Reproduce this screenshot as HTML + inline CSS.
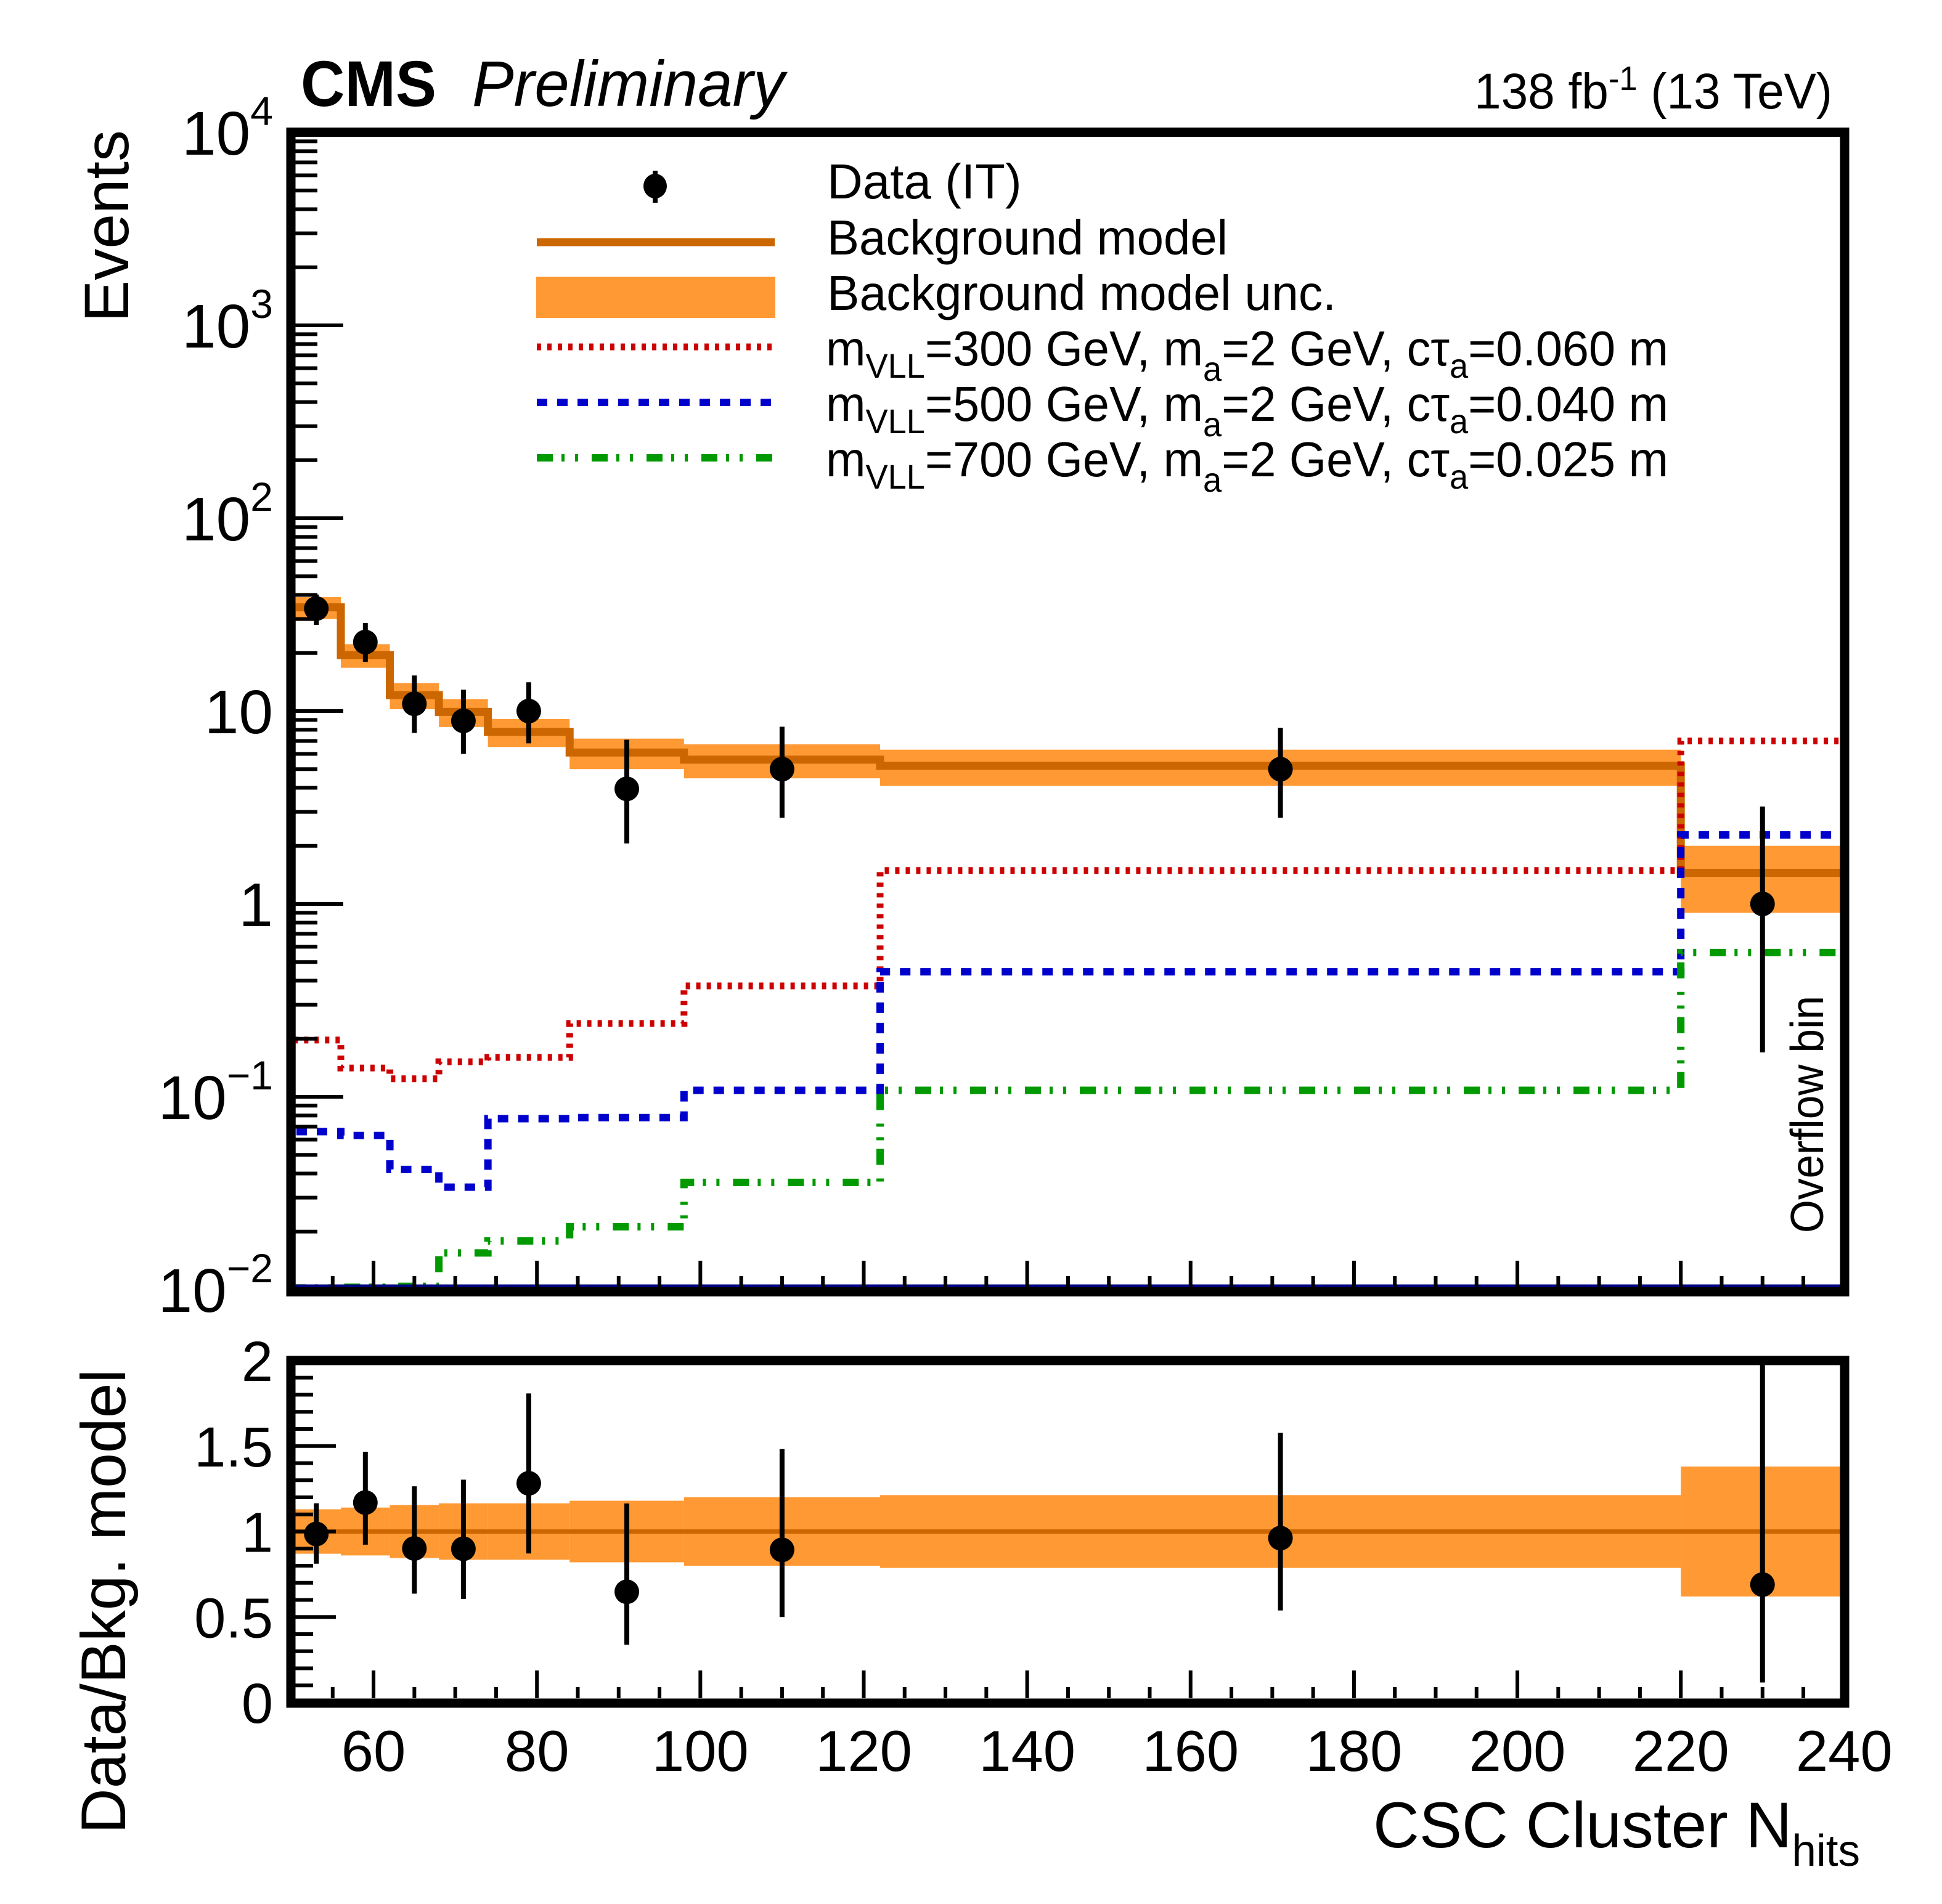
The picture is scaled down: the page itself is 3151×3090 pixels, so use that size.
<!DOCTYPE html>
<html><head><meta charset="utf-8">
<style>
html,body{margin:0;padding:0;background:#fff;}
svg{display:block;font-family:"Liberation Sans",Arial,sans-serif;}
</style></head>
<body>
<svg id="chart" width="3151" height="3090" viewBox="0 0 3151 3090" xmlns="http://www.w3.org/2000/svg">
<defs>
<clipPath id="clipMain"><rect x="479" y="221" width="2507" height="1869"/></clipPath>
<clipPath id="clipRatio"><rect x="479" y="2215" width="2507" height="542"/></clipPath>
</defs>
<g id="main-layer"></g>
<g id="ratio-layer"></g>
<g id="axes-layer"></g>

<text x="488" y="172" font-size="105" font-weight="bold" textLength="220" lengthAdjust="spacingAndGlyphs">CMS</text>
<text x="766" y="172" font-size="105" font-style="italic" textLength="507" lengthAdjust="spacingAndGlyphs">Preliminary</text>
<text x="2392" y="176" font-size="82" textLength="581" lengthAdjust="spacingAndGlyphs">138 fb<tspan dy="-30" font-size="55">-1</tspan><tspan dy="30"> (13 TeV)</tspan></text>

<text transform="translate(208,211) rotate(-90)" text-anchor="end" font-size="102">Events</text>
<text transform="translate(203,2222) rotate(-90)" text-anchor="end" font-size="102">Data/Bkg. model</text>
<text x="2228" y="2998" font-size="105" textLength="790" lengthAdjust="spacingAndGlyphs">CSC Cluster N<tspan dy="30" font-size="72">hits</tspan></text>
<text transform="translate(2958,2001) rotate(-90)" font-size="75" textLength="385" lengthAdjust="spacingAndGlyphs">Overflow bin</text>

<g>
  <line x1="1063" y1="277" x2="1063" y2="329" stroke="#000" stroke-width="8"/>
  <ellipse cx="1063" cy="302" rx="19" ry="20" fill="#000"/>
  <text x="1342" y="322" font-size="80">Data (IT)</text>
  <line x1="871" y1="393" x2="1257" y2="393" stroke="#CC6600" stroke-width="13"/>
  <text x="1342" y="413" font-size="80" textLength="650" lengthAdjust="spacingAndGlyphs">Background model</text>
  <rect x="870" y="449" width="388" height="67" fill="#FF9933"/>
  <text x="1342" y="503" font-size="80" textLength="826" lengthAdjust="spacingAndGlyphs">Background model unc.</text>
  <line x1="871" y1="563" x2="1257" y2="563" stroke="#CC0000" stroke-width="11" stroke-dasharray="7 10"/>
  <text x="1340" y="593" font-size="80" textLength="1367" lengthAdjust="spacingAndGlyphs">m<tspan dy="20" font-size="56">VLL</tspan><tspan dy="-20">=300 GeV, m</tspan><tspan dy="25" font-size="56">a</tspan><tspan dy="-25">=2 GeV, cτ</tspan><tspan dy="20" font-size="56">a</tspan><tspan dy="-20">=0.060 m</tspan></text>
  <line x1="871" y1="653" x2="1257" y2="653" stroke="#0000CC" stroke-width="12" stroke-dasharray="17 16"/>
  <text x="1340" y="683" font-size="80" textLength="1367" lengthAdjust="spacingAndGlyphs">m<tspan dy="20" font-size="56">VLL</tspan><tspan dy="-20">=500 GeV, m</tspan><tspan dy="25" font-size="56">a</tspan><tspan dy="-25">=2 GeV, cτ</tspan><tspan dy="20" font-size="56">a</tspan><tspan dy="-20">=0.040 m</tspan></text>
  <line x1="871" y1="743" x2="1257" y2="743" stroke="#009900" stroke-width="12" stroke-dasharray="26 14 5 17 5 22"/>
  <text x="1340" y="773" font-size="80" textLength="1367" lengthAdjust="spacingAndGlyphs">m<tspan dy="20" font-size="56">VLL</tspan><tspan dy="-20">=700 GeV, m</tspan><tspan dy="25" font-size="56">a</tspan><tspan dy="-25">=2 GeV, cτ</tspan><tspan dy="20" font-size="56">a</tspan><tspan dy="-20">=0.025 m</tspan></text>
</g>
</svg>
<script>
// ---- data ----
var binEdges = [50, 56, 62, 68, 74, 84, 98, 122, 220, 240];
var bkgValues = [34.5, 19.5, 12.1, 9.9, 7.8, 6.1, 5.6, 5.2, 1.45];
var bkgRelUnc = [0.13, 0.14, 0.155, 0.165, 0.165, 0.18, 0.2, 0.213, 0.38];
var dataX = [53, 59, 65, 71, 79, 91, 110, 171, 230];
var dataValues = [34, 22.8, 10.9, 8.9, 10, 3.95, 5.0, 5.0, 1.0];
var dataErrHi = [40.2, 28.6, 15.3, 12.9, 14.1, 7.1, 8.3, 8.2, 3.2];
var dataErrLo = [28, 18, 7.7, 6.0, 6.8, 2.06, 2.8, 2.8, 0.17];
var sig300 = [0.197, 0.141, 0.124, 0.152, 0.160, 0.24, 0.376, 1.49, 7.0];
var sig500 = [0.066, 0.063, 0.042, 0.034, 0.077, 0.078, 0.108, 0.445, 2.28];
var sig700 = [0.0102, 0.0103, 0.0104, 0.0155, 0.0179, 0.0212, 0.036, 0.108, 0.56];
var xTickLabels = [60, 80, 100, 120, 140, 160, 180, 200, 220, 240];
var ratioTickLabels = ["0", "0.5", "1", "1.5", "2"];
var ratioTickValues = [0, 0.5, 1, 1.5, 2];
var logTickExps = [-2, -1, 0, 1, 2, 3, 4];

// ---- axis functions ----
function xs(v){ return 473.5 + (v - 50) * 13.257; }
function ly(v){ return 215 + (4 - Math.log10(Math.max(v, 1e-3))) * 313; }
function ry(r){ return 2763 - r * 277.5; }

var NS = "http://www.w3.org/2000/svg";
function mk(tag, attrs, parent){
  var e = document.createElementNS(NS, tag);
  for (var k in attrs) e.setAttribute(k, attrs[k]);
  parent.appendChild(e); return e;
}
var mainL = document.getElementById('main-layer');
var ratioL = document.getElementById('ratio-layer');
var axL = document.getElementById('axes-layer');
var mainG = mk('g', {'clip-path':'url(#clipMain)'}, mainL);
var ratioG = mk('g', {'clip-path':'url(#clipRatio)'}, ratioL);

for (var i = 0; i < bkgValues.length; i++){
  var y1 = ly(bkgValues[i] * (1 + bkgRelUnc[i])), y2 = ly(bkgValues[i] * (1 - bkgRelUnc[i]));
  var r = mk('rect', {x: xs(binEdges[i]), y: y1, width: xs(binEdges[i+1]) - xs(binEdges[i]), height: y2 - y1, fill: '#FF9933'}, mainG);
  
  
}
function stepPath(vals, yf, bottomY){
  var d = 'M' + xs(binEdges[0]) + ' ' + bottomY;
  for (var i = 0; i < vals.length; i++){
    d += ' L' + xs(binEdges[i]) + ' ' + yf(vals[i]) + ' L' + xs(binEdges[i+1]) + ' ' + yf(vals[i]);
  }
  return d;
}
var bkgP = mk('path', {d: stepPath(bkgValues, ly, 2093), fill: 'none', stroke: '#CC6600', 'stroke-width': 13}, mainG);


var s3 = mk('path', {d: stepPath(sig300, ly, 2093), fill: 'none', stroke: '#CC0000', 'stroke-width': 11, 'stroke-dasharray': '7 10'}, mainG);


var s5 = mk('path', {d: stepPath(sig500, ly, 2093), fill: 'none', stroke: '#0000CC', 'stroke-width': 12, 'stroke-dasharray': '17 16'}, mainG);


var s7 = mk('path', {d: stepPath(sig700, ly, 2093), fill: 'none', stroke: '#009900', 'stroke-width': 12, 'stroke-dasharray': '26 14 5 17 5 22'}, mainG);


var bl = mk('line', {x1: 479, y1: 2087, x2: 2986, y2: 2087, stroke: '#000080', 'stroke-width': 5}, mainG);



for (var i = 0; i < dataValues.length; i++){
  var cx = xs(dataX[i]);
  var e = mk('line', {x1: cx, y1: ly(dataErrHi[i]), x2: cx, y2: ly(dataErrLo[i]), stroke: '#000', 'stroke-width': 8}, mainG);
  
  
  var c = mk('circle', {cx: cx, cy: ly(dataValues[i]), r: 20, fill: '#000'}, mainG);
  
  
}

for (var i = 0; i < bkgValues.length; i++){
  var rr = mk('rect', {x: xs(binEdges[i]), y: ry(1 + bkgRelUnc[i]), width: xs(binEdges[i+1]) - xs(binEdges[i]), height: ry(1 - bkgRelUnc[i]) - ry(1 + bkgRelUnc[i]), fill: '#FF9933'}, ratioG);
  
  
}
var rl = mk('line', {x1: xs(binEdges[0]), y1: ry(1), x2: xs(binEdges[binEdges.length-1]), y2: ry(1), stroke: '#CC6600', 'stroke-width': 7}, ratioG);


for (var i = 0; i < dataValues.length; i++){
  var cx = xs(dataX[i]);
  var b = bkgValues[i];
  for (var j = 0; j < bkgValues.length; j++){ if (dataX[i] >= binEdges[j] && dataX[i] < binEdges[j+1]) b = bkgValues[j]; }
  var e2 = mk('line', {x1: cx, y1: ry(dataErrHi[i] / b), x2: cx, y2: ry(dataErrLo[i] / b), stroke: '#000', 'stroke-width': 8}, ratioG);
  
  
  var c2 = mk('circle', {cx: cx, cy: ry(dataValues[i] / b), r: 20, fill: '#000'}, ratioG);
  
  
}

var f1 = mk('rect', {x: 472, y: 214.5, width: 2521, height: 1882, fill: 'none', stroke: '#000', 'stroke-width': 15}, axL);


var f2 = mk('rect', {x: 472, y: 2208, width: 2521, height: 556, fill: 'none', stroke: '#000', 'stroke-width': 15}, axL);



for (var v = 50; v <= 240; v += 5){
  var maj = (v % 20 === 0);
  var len = maj ? 43 : 18;
  var t1 = mk('line', {x1: xs(v), y1: 2089, x2: xs(v), y2: 2089 - len, stroke: '#000', 'stroke-width': 6}, axL);
  
  
  var t2 = mk('line', {x1: xs(v), y1: 2756, x2: xs(v), y2: 2756 - (maj ? 45 : 18), stroke: '#000', 'stroke-width': 6}, axL);
  
  
}
for (var i = 0; i < xTickLabels.length; i++){
  var tl = mk('text', {x: xs(xTickLabels[i]), y: 2910, 'text-anchor': 'middle', 'font-size': 94}, axL);
  tl.setAttribute('y', 2908 - 34);
  tl.textContent = xTickLabels[i];
  
  
}
for (var k = 0; k < logTickExps.length; k++){
  var ex = logTickExps[k];
  var yy = ly(Math.pow(10, ex));
  if (ex < 4){
    var mt = mk('line', {x1: 479, y1: yy, x2: 557, y2: yy, stroke: '#000', 'stroke-width': 6}, axL);
    
    
    for (var m = 2; m <= 9; m++){
      var ym = ly(m * Math.pow(10, ex));
      var mn = mk('line', {x1: 479, y1: ym, x2: 515, y2: ym, stroke: '#000', 'stroke-width': 6}, axL);
      
      
    }
  }
  var lab = mk('text', {x: 443, y: yy + 36, 'text-anchor': 'end', 'font-size': 100}, axL);
  
  
  if (ex === 0){ lab.textContent = '1'; }
  else if (ex === 1){ lab.textContent = '10'; }
  else {
    lab.appendChild(document.createTextNode('10'));
    var sp = mk('tspan', {dy: -48, 'font-size': 66}, lab);
    sp.textContent = (ex < 0 ? '\u2212' : '') + Math.abs(ex);
  }
}
for (var v = 0; v <= 20; v++){
  var yv = ry(v / 10);
  var maj = (v % 5 === 0);
  var rt = mk('line', {x1: 479, y1: yv, x2: 479 + (maj ? 66 : 29), y2: yv, stroke: '#000', 'stroke-width': 6}, axL);
  
  
}
for (var i = 0; i < ratioTickLabels.length; i++){
  var rlab = mk('text', {x: 443, y: ry(ratioTickValues[i]) + 33, 'text-anchor': 'end', 'font-size': 92}, axL);
  rlab.textContent = ratioTickLabels[i];
  
  
}
</script>
</body></html>
